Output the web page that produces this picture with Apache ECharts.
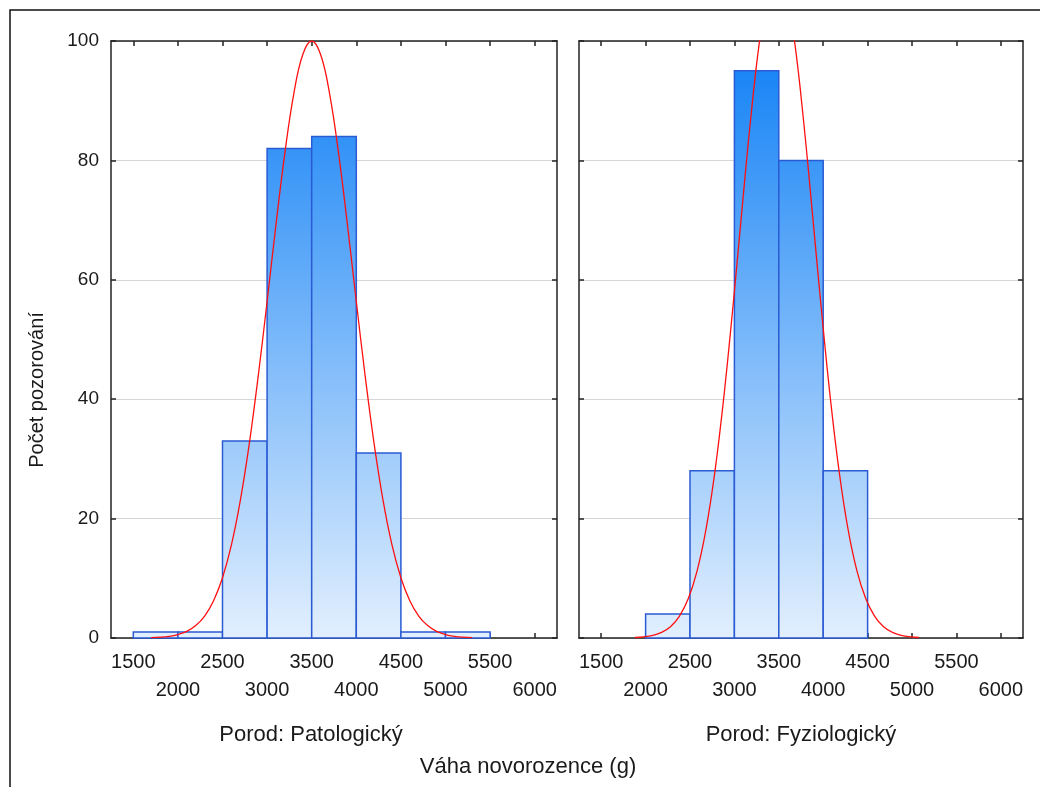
<!DOCTYPE html>
<html>
<head>
<meta charset="utf-8">
<script src="https://cdn.jsdelivr.net/npm/echarts@6/dist/echarts.min.js"></script>
<style>
html,body{margin:0;padding:0;background:#fff;}
#chart{width:1040px;height:787px;}
</style>
</head>
<body>
<div id="chart"></div>
<script>
// ---- data ----
const xTickValues = [1500,2000,2500,3000,3500,4000,4500,5000,5500,6000];
const yTickLabels = [0,20,40,60,80,100];
const panelTitles = ['Porod: Patologický','Porod: Fyziologický'];
const xTitle = 'Váha novorozence (g)';
const yTitle = 'Počet pozorování';

// histogram bins (start of each 500 g bin)
const leftBinStarts = [1500,2000,2500,3000,3500,4000,4500,5000];
const leftCounts    = [1,1,33,82,84,31,1,1];
const rightBinStarts = [2000,2500,3000,3500,4000];
const rightCounts    = [4,28,95,80,28];
const binWidth = 500;

// fitted normal curves
const leftCurveX = [1700,1800,1900,2000,2100,2200,2300,2400,2500,2600,2700,2800,2900,3000,3100,3200,3300,3400,3500,3600,3700,3800,3900,4000,4100,4200,4300,4400,4500,4600,4700,4800,4900,5000,5100,5200,5300];
const leftCurveY = [0.06,0.13,0.28,0.58,1.12,2.08,3.68,6.24,10.10,15.61,23.06,32.52,43.81,56.37,69.30,81.35,91.24,97.73,100,97.73,91.24,81.35,69.30,56.37,43.81,32.52,23.06,15.61,10.10,6.24,3.68,2.08,1.12,0.58,0.28,0.13,0.06];
const rightCurveX = [1880,1980,2080,2180,2280,2380,2480,2580,2680,2780,2880,2980,3080,3180,3280,3380,3480,3580,3680,3780,3880,3980,4080,4180,4280,4380,4480,4580,4680,4780,4880,4980,5080];
const rightCurveY = [0.08,0.19,0.43,0.93,1.88,3.62,6.56,11.24,18.19,27.83,40.23,54.94,70.91,86.47,99.63,108.5,111.6,108.5,99.63,86.47,70.91,54.94,40.23,27.83,18.19,11.24,6.56,3.62,1.88,0.93,0.43,0.19,0.08];

// ---- chart ----
const chart = echarts.init(document.getElementById('chart'));
const FONT = '"Liberation Sans", Arial, sans-serif';
const gridTop = 41, gridH = 597;
const grids = [
  {left: 111, top: gridTop, width: 446, height: gridH},
  {left: 579, top: gridTop, width: 444, height: gridH}
];
const axisLine = {show: true, onZero: false, lineStyle: {color: '#222', width: 1.5}};
const tickStyle = {show: true, inside: true, length: 5, lineStyle: {color: '#222', width: 1.5}};

function xAxisDef(gi, pos, labels) {
  return {
    type: 'value', gridIndex: gi, position: pos, min: 1250, max: 6250,
    axisLine: axisLine,
    axisTick: Object.assign({customValues: xTickValues}, tickStyle),
    axisLabel: labels ? {
      show: true, customValues: xTickValues, margin: 10,
      fontFamily: FONT, fontSize: 20, color: '#1a1a1a', lineHeight: 28,
      formatter: v => ((v / 500) % 2 === 1 ? String(v) : '\n' + v)
    } : {show: false},
    splitLine: {show: false}
  };
}
function yAxisDef(gi, pos, labels) {
  return {
    type: 'value', gridIndex: gi, position: pos, min: 0, max: 100, interval: 20,
    axisLine: axisLine,
    axisTick: tickStyle,
    axisLabel: labels ? {show: true, fontFamily: FONT, fontSize: 19, color: '#1a1a1a', margin: 12,
      formatter: v => (yTickLabels.indexOf(v) >= 0 ? String(v) : '')} : {show: false},
    splitLine: pos === 'left' ? {show: true, lineStyle: {color: '#d6d6d6', width: 1}} : {show: false}
  };
}

const barGradient = new echarts.graphic.LinearGradient(0, gridTop, 0, gridTop + gridH, [
  {offset: 0, color: '#1080f5'},
  {offset: 1, color: '#e2effe'}
], true);

function histSeries(xi, yi, starts, counts) {
  return {
    type: 'custom', xAxisIndex: xi, yAxisIndex: yi,
    data: starts.map((s, i) => [s, s + binWidth, counts[i]]),
    encode: {x: [0, 1], y: 2},
    renderItem: function (params, api) {
      const p0 = api.coord([api.value(0), api.value(2)]);
      const p1 = api.coord([api.value(1), 0]);
      return {
        type: 'rect',
        shape: {x: p0[0], y: p0[1], width: p1[0] - p0[0], height: p1[1] - p0[1]},
        style: {fill: barGradient, stroke: '#2a5bd4', lineWidth: 1.5}
      };
    },
    z: 2
  };
}
function curveSeries(xi, yi, xs, ys) {
  return {
    type: 'line', xAxisIndex: xi, yAxisIndex: yi,
    data: xs.map((x, i) => [x, ys[i]]),
    smooth: 0.4, showSymbol: false, symbol: 'none', clip: true,
    lineStyle: {color: '#ff1010', width: 1.3},
    z: 5, silent: true
  };
}

chart.setOption({
  animation: false,
  backgroundColor: '#fff',
  grid: grids,
  xAxis: [
    xAxisDef(0, 'bottom', true), xAxisDef(0, 'top', false),
    xAxisDef(1, 'bottom', true), xAxisDef(1, 'top', false)
  ],
  yAxis: [
    yAxisDef(0, 'left', true), yAxisDef(0, 'right', false),
    yAxisDef(1, 'left', false), yAxisDef(1, 'right', false)
  ],
  series: [
    histSeries(0, 0, leftBinStarts, leftCounts),
    curveSeries(0, 0, leftCurveX, leftCurveY),
    histSeries(2, 2, rightBinStarts, rightCounts),
    curveSeries(2, 2, rightCurveX, rightCurveY)
  ],
  graphic: [
    {type: 'rect', shape: {x: 10, y: 10, width: 1100, height: 900}, style: {fill: 'none', stroke: '#111', lineWidth: 1.5}, silent: true, z: 0},
    {type: 'text', x: 37, y: 390, rotation: Math.PI / 2,
      style: {text: yTitle, fontFamily: FONT, fontSize: 20, fill: '#1a1a1a', align: 'center', verticalAlign: 'middle'}},
    {type: 'text', x: 311, y: 735,
      style: {text: panelTitles[0], fontFamily: FONT, fontSize: 22, fill: '#1a1a1a', align: 'center', verticalAlign: 'middle'}},
    {type: 'text', x: 801, y: 735,
      style: {text: panelTitles[1], fontFamily: FONT, fontSize: 22, fill: '#1a1a1a', align: 'center', verticalAlign: 'middle'}},
    {type: 'text', x: 528, y: 767,
      style: {text: xTitle, fontFamily: FONT, fontSize: 22, fill: '#1a1a1a', align: 'center', verticalAlign: 'middle'}}
  ]
});
</script>
</body>
</html>
